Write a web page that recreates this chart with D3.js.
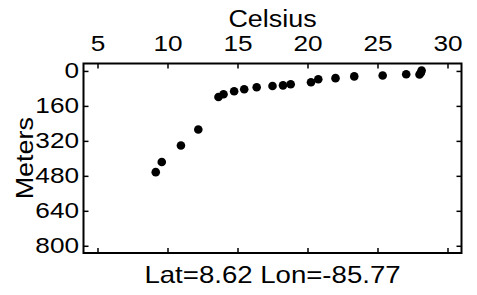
<!DOCTYPE html>
<html>
<head>
<meta charset="utf-8">
<script src="https://cdn.jsdelivr.net/npm/d3@7"></script>
<style>
  body { margin: 0; background: #fff; }
  svg text { font-family: "Liberation Sans", Arial, sans-serif; fill: #000; }
</style>
</head>
<body>
<svg id="chart" width="477" height="295"></svg>
<script>
// temperature (Celsius) vs depth (Meters)
const celsius = [9.16, 9.59, 10.96, 12.2, 13.64, 14.0, 14.76, 15.48, 16.37, 17.5, 18.25, 18.8,
                 20.25, 20.77, 22.0, 23.34, 25.37, 27.05, 28.0, 28.1, 28.15];
const meters = [463, 417, 341, 268, 119, 107, 93, 84, 75, 69, 66, 61,
                52, 38, 33, 25, 21, 15, 16, 8, -2];
const xTicks = [5, 10, 15, 20, 25, 30];
const yTicks = [0, 160, 320, 480, 640, 800];
const xTitle = "Celsius";
const yTitle = "Meters";
const subTitle = "Lat=8.62 Lon=-85.77";

const svg = d3.select("#chart");
const plotLeft = 83.5, plotRight = 461.5, plotTop = 63.5, plotBottom = 253;

const x = d3.scaleLinear().domain([4, 31]).range([plotLeft, plotRight]);
const y = d3.scaleLinear().domain([-34, 833]).range([plotTop, plotBottom]);

const tickFont = 22, tickStretch = 1.19;
const titleFont = 23, titleStretch = 1.17;

// top axis with labels
const gTop = svg.append("g")
    .attr("transform", `translate(0,${plotTop})`)
    .call(d3.axisTop(x).tickValues(xTicks).tickSize(-5).tickPadding(12.5).tickFormat(d3.format("d")));
// bottom axis, ticks only
const gBottom = svg.append("g")
    .attr("transform", `translate(0,${plotBottom})`)
    .call(d3.axisBottom(x).tickValues(xTicks).tickSize(-5).tickFormat(""));
// left axis with labels
const gLeft = svg.append("g")
    .attr("transform", `translate(${plotLeft},0)`)
    .call(d3.axisLeft(y).tickValues(yTicks).tickSize(-5).tickPadding(4.5 / tickStretch).tickFormat(d3.format("d")));
// right axis, ticks only
const gRight = svg.append("g")
    .attr("transform", `translate(${plotRight},0)`)
    .call(d3.axisRight(y).tickValues(yTicks).tickSize(-5).tickFormat(""));

[gTop, gBottom, gLeft, gRight].forEach(g => {
    g.select(".domain").remove();
    g.selectAll(".tick line").attr("stroke", "#000").attr("stroke-width", 1.5);
    g.selectAll(".tick text")
        .attr("font-size", tickFont)
        .attr("font-family", "Liberation Sans, Arial, sans-serif")
        .attr("fill", "#000")
        .attr("transform", `scale(${tickStretch},1)`);
});

// frame
svg.append("rect")
    .attr("x", plotLeft).attr("y", plotTop)
    .attr("width", plotRight - plotLeft).attr("height", plotBottom - plotTop)
    .attr("fill", "none")
    .attr("stroke", "#000")
    .attr("stroke-width", 2);

// points
svg.append("g")
    .selectAll("circle")
    .data(celsius)
    .join("circle")
    .attr("cx", (d) => x(d))
    .attr("cy", (d, i) => y(meters[i]))
    .attr("r", 4.3)
    .attr("fill", "#000");

// titles
svg.append("text")
    .attr("transform", `translate(${(plotLeft + plotRight) / 2},27) scale(${titleStretch},1)`)
    .attr("text-anchor", "middle")
    .attr("font-size", titleFont)
    .text(xTitle);

svg.append("text")
    .attr("transform", `translate(33,${(plotTop + plotBottom) / 2}) rotate(-90) scale(${titleStretch},1)`)
    .attr("text-anchor", "middle")
    .attr("font-size", titleFont)
    .text(yTitle);

svg.append("text")
    .attr("transform", `translate(${(plotLeft + plotRight) / 2},283) scale(1.2,1)`)
    .attr("text-anchor", "middle")
    .attr("font-size", titleFont)
    .text(subTitle);
</script>
</body>
</html>
